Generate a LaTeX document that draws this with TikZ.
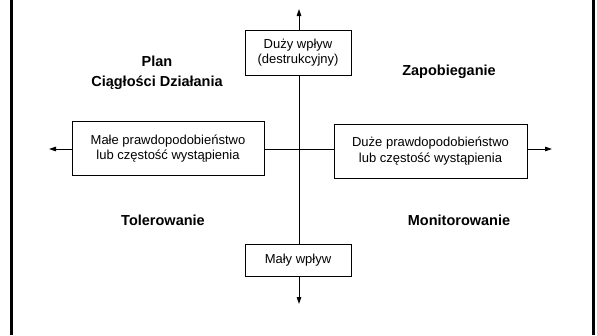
\documentclass[tikz,border=0pt]{standalone}
\usepackage{fontspec}
\setmainfont{Liberation Sans}
\usetikzlibrary{arrows.meta}
\begin{document}
\begin{tikzpicture}[x=1pt,y=-1pt,
  box/.style={draw,line width=0.8pt,fill=white,align=center,inner sep=0pt,
    font=\fontsize{13}{15.5}\selectfont},
  quad/.style={font=\fontsize{14.5}{17}\selectfont\bfseries,align=center},
  axis/.style={line width=0.8pt},
  axarrow/.style={axis,-{Triangle[length=7pt,width=4.5pt]}},
  sidebar/.style={line width=3pt}]
\useasboundingbox (0,0) rectangle (597,335);
% side bars
\draw[sidebar] (11.5,0) -- (11.5,335);
\draw[sidebar] (593.5,0) -- (593.5,335);
% axis crossing and arrow ends
\coordinate (o) at (299,149);
\coordinate (tN) at (299,9);
\coordinate (tS) at (299,304);
\coordinate (tW) at (49,149);
\coordinate (tE) at (552,149);
% axis boxes
\node[box,minimum width=106pt,minimum height=45pt] (hi) at (298,52.5) {Duży wpływ\\(destrukcyjny)};
\node[box,minimum width=106pt,minimum height=32pt] (lo) at (298,260) {Mały wpływ};
\node[box,minimum width=192pt,minimum height=54pt] (lp) at (168,148.5) {Małe prawdopodobieństwo\\lub częstość wystąpienia};
\node[box,minimum width=193pt,minimum height=54pt] (hp) at (430.5,151) {Duże prawdopodobieństwo\\lub częstość wystąpienia};
% axes
\draw[axis] (hi.south -| o) -- (lo.north -| o);
\draw[axis] (lp.east |- o) -- (hp.west |- o);
\draw[axarrow] (hi.north -| o) -- (tN);
\draw[axarrow] (lo.south -| o) -- (tS);
\draw[axarrow] (lp.west |- o) -- (tW);
\draw[axarrow] (hp.east |- o) -- (tE);
% quadrant labels
\node[quad] (plan) at (157,61) {Plan};
\node[quad] (bcp) at (157,83) {Ciągłości Działania};
\node[quad] (prev) at (449,72) {Zapobieganie};
\node[quad] (tol) at (163,220) {Tolerowanie};
\node[quad] (mon) at (459,220) {Monitorowanie};
\end{tikzpicture}
\end{document}
